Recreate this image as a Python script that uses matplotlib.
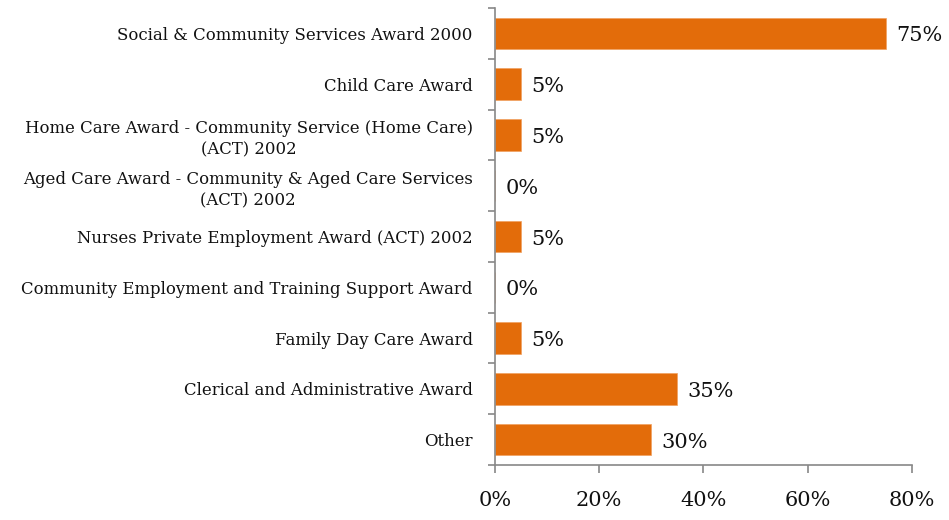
import numpy as np
import matplotlib
matplotlib.use('Agg')
import matplotlib.pyplot as plt
from matplotlib.ticker import FixedLocator

categories = ['Social & Community Services Award 2000',
              'Child Care Award',
              'Home Care Award - Community Service (Home Care)\n(ACT) 2002',
              'Aged Care Award - Community & Aged Care Services\n(ACT) 2002',
              'Nurses Private Employment Award (ACT) 2002',
              'Community Employment and Training Support Award',
              'Family Day Care Award',
              'Clerical and Administrative Award',
              'Other']
values = [75, 5, 5, 0, 5, 0, 5, 35, 30]
xticks = [0, 20, 40, 60, 80]

plt.rcParams['font.family'] = ['DejaVu Serif']

fig = plt.figure(figsize=(9.49, 5.2), dpi=100)
ax = fig.add_axes([0.5216, 0.1058, 0.4394, 0.8788])

pos = np.arange(len(categories))
ax.barh(pos, values, height=0.62, color='#E36C0A', edgecolor='#F0A060', linewidth=0.5)
for p, v in zip(pos, values):
    ax.text(v + 2.0, p + 0.05, f'{v}%', va='center', ha='left', fontsize=15, color='#111111')

ax.set_ylim(len(categories) - 0.5, -0.5)
ax.set_xlim(0, 80)

ax.yaxis.set_major_locator(FixedLocator(np.arange(-0.5, len(categories), 1)))
ax.yaxis.set_major_formatter(plt.NullFormatter())
ax.yaxis.set_minor_locator(FixedLocator(pos))
ax.set_yticklabels(categories, minor=True, fontsize=11.9, color='#111111', linespacing=1.35)
for lbl in ax.get_yticklabels(minor=True):
    lbl.set_multialignment('center')
ax.tick_params(axis='y', which='minor', length=0, pad=16)
ax.tick_params(axis='y', which='major', length=5, color='#888888', width=1.2)

ax.set_xticks(xticks)
ax.set_xticklabels([f'{t}%' for t in xticks], fontsize=15, color='#111111')
ax.tick_params(axis='x', length=6, color='#888888', width=1.2, pad=13)

for s in ['top', 'right']:
    ax.spines[s].set_visible(False)
for s in ['left', 'bottom']:
    ax.spines[s].set_color('#888888')
    ax.spines[s].set_linewidth(1.2)

fig.savefig('out.png', dpi=100)
